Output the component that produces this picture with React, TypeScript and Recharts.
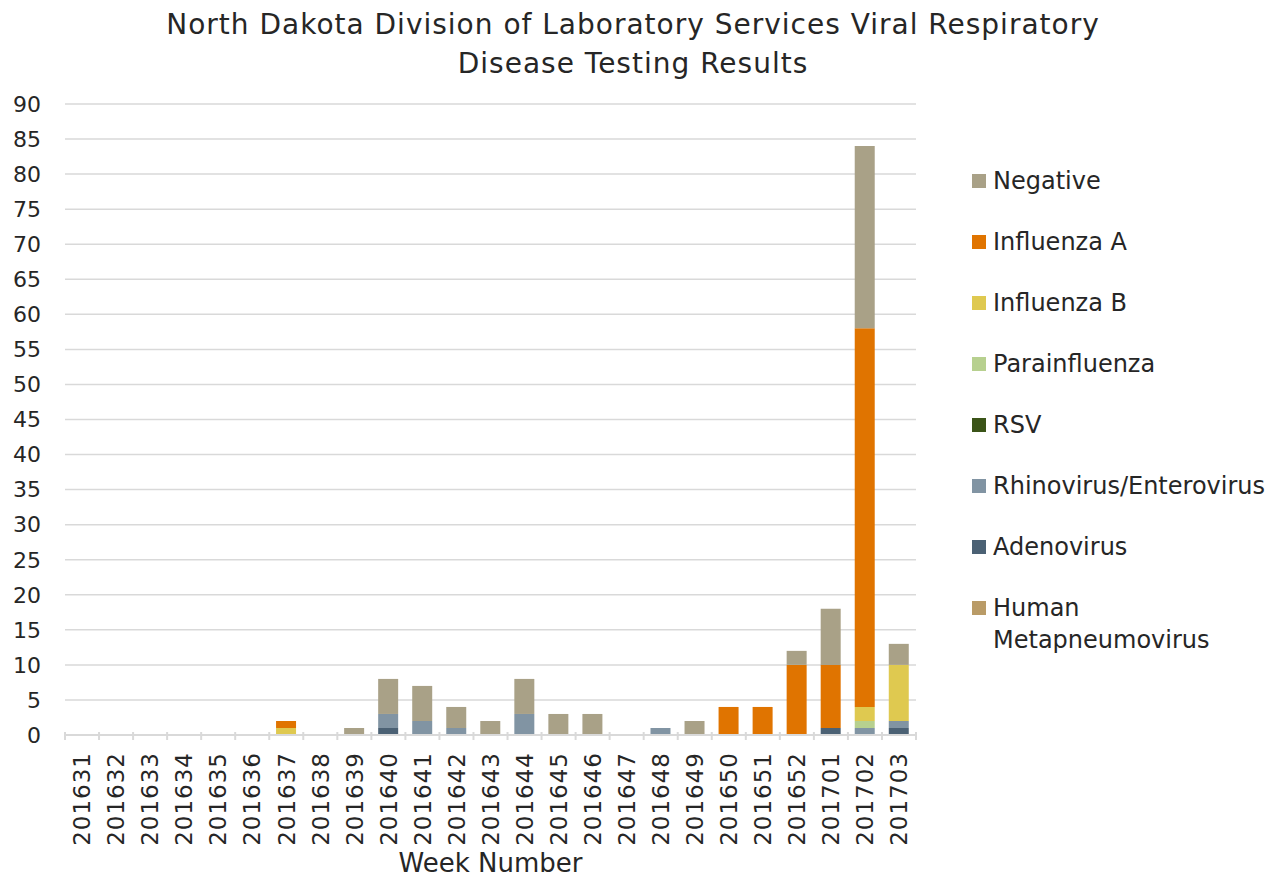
import React from 'react';
import { BarChart, Bar, XAxis, YAxis, CartesianGrid } from 'recharts';

const weeks = ['201631','201632','201633','201634','201635','201636','201637','201638','201639','201640','201641','201642','201643','201644','201645','201646','201647','201648','201649','201650','201651','201652','201701','201702','201703'];
const hmpv =          [0,0,0,0,0,0,0,0,0,0,0,0,0,0,0,0,0,0,0,0,0,0,0,0,0];
const adenovirus =    [0,0,0,0,0,0,0,0,0,1,0,0,0,0,0,0,0,0,0,0,0,0,1,0,1];
const rhinovirus =    [0,0,0,0,0,0,0,0,0,2,2,1,0,3,0,0,0,1,0,0,0,0,0,1,1];
const rsv =           [0,0,0,0,0,0,0,0,0,0,0,0,0,0,0,0,0,0,0,0,0,0,0,0,0];
const parainfluenza = [0,0,0,0,0,0,0,0,0,0,0,0,0,0,0,0,0,0,0,0,0,0,0,1,0];
const influenzaB =    [0,0,0,0,0,0,1,0,0,0,0,0,0,0,0,0,0,0,0,0,0,0,0,2,8];
const influenzaA =    [0,0,0,0,0,0,1,0,0,0,0,0,0,0,0,0,0,0,0,4,4,10,9,54,0];
const negative =      [0,0,0,0,0,0,0,0,1,5,5,3,2,5,3,3,0,0,2,0,0,2,8,26,3];
const yTicks = [0,5,10,15,20,25,30,35,40,45,50,55,60,65,70,75,80,85,90];

const series = [
  { key: 'hmpv', name: 'Human Metapneumovirus', color: '#B99B67', values: hmpv },
  { key: 'adeno', name: 'Adenovirus', color: '#4B6174', values: adenovirus },
  { key: 'rhino', name: 'Rhinovirus/Enterovirus', color: '#8194A3', values: rhinovirus },
  { key: 'rsv', name: 'RSV', color: '#3B5418', values: rsv },
  { key: 'para', name: 'Parainfluenza', color: '#B7D08F', values: parainfluenza },
  { key: 'infB', name: 'Influenza B', color: '#DFC950', values: influenzaB },
  { key: 'infA', name: 'Influenza A', color: '#E07400', values: influenzaA },
  { key: 'neg', name: 'Negative', color: '#A9A187', values: negative },
];

const data = weeks.map((w, i) => {
  const row: Record<string, any> = { week: w };
  series.forEach((s) => { row[s.key] = s.values[i]; });
  return row;
});

const FONT = '"DejaVu Sans", sans-serif';
const W = 1280;
const H = 877;
const M = { top: 104, right: 364, left: 0, bottom: 0 };
const Y_W = 65;
const PLOT_W = W - M.left - M.right - Y_W;
const BAND = PLOT_W / weeks.length;

const XTick = (props: any) => {
  const { x, y, payload, index } = props;
  const isLast = index === weeks.length - 1;
  const ty = y + 9;
  return (
    <g>
      <line x1={x - BAND / 2} x2={x - BAND / 2} y1={y - 11} y2={y - 3} stroke="#d9d9d9" strokeWidth={2} />
      {isLast && <line x1={x + BAND / 2} x2={x + BAND / 2} y1={y - 11} y2={y - 3} stroke="#d9d9d9" strokeWidth={2} />}
      <text
        x={x}
        y={ty}
        transform={`rotate(-90, ${x}, ${ty})`}
        textAnchor="end"
        dy="0.36em"
        fontFamily={FONT}
        fontSize={23}
        letterSpacing={1}
        fill="#262626"
      >
        {payload.value}
      </text>
    </g>
  );
};

const LegendBlock = () => {
  const items = [...series].reverse();
  return (
    <div style={{ position: 'absolute', left: 972, top: 165, width: 310, height: 520 }}>
      {items.map((s, i) => {
        const lines = s.key === 'hmpv' ? ['Human', 'Metapneumovirus'] : [s.name];
        return (
          <div key={s.key} style={{ position: 'absolute', left: 0, top: i * 61.0, display: 'flex', alignItems: 'flex-start' }}>
            <div style={{ width: 14, height: 14, background: s.color, marginTop: 9, marginRight: 7 }} />
            <div style={{ fontFamily: FONT, fontSize: 24, lineHeight: '32px', color: '#262626', whiteSpace: 'nowrap' }}>
              {lines.map((l) => <div key={l}>{l}</div>)}
            </div>
          </div>
        );
      })}
    </div>
  );
};

export default function App() {
  return (
    <div style={{ position: 'absolute', left: 0, top: 0, width: W, height: H, background: '#fff', overflow: 'hidden' }}>
      <div style={{ position: 'absolute', left: 0, top: 5, width: 1266, textAlign: 'center', fontFamily: FONT, fontSize: 28, letterSpacing: 1, lineHeight: '39px', color: '#262626' }}>
        <div>North Dakota Division of Laboratory Services Viral Respiratory</div>
        <div>Disease Testing Results</div>
      </div>
      <BarChart width={W} height={H} data={data} margin={M} barCategoryGap="20%">
        <CartesianGrid vertical={false} stroke="#d9d9d9" strokeWidth={1.5} />
        <XAxis
          dataKey="week"
          height={142}
          interval={0}
          tick={<XTick />}
          tickLine={false}
          axisLine={{ stroke: '#d9d9d9', strokeWidth: 2 }}
        />
        <YAxis
          width={Y_W}
          domain={[0, 90]}
          ticks={yTicks}
          interval={0}
          axisLine={false}
          tickLine={false}
          tickSize={0}
          tickMargin={24}
          tick={{ fontFamily: FONT, fontSize: 22, fill: '#262626' }}
        />
        {series.map((s) => (
          <Bar key={s.key} dataKey={s.key} name={s.name} stackId="a" fill={s.color} isAnimationActive={false} />
        ))}
      </BarChart>
      <LegendBlock />
      <div style={{ position: 'absolute', left: 65, width: 851, top: 850, textAlign: 'center', fontFamily: FONT, fontSize: 26, lineHeight: '26px', height: 26, color: '#262626' }}>
        Week Number
      </div>
    </div>
  );
}
